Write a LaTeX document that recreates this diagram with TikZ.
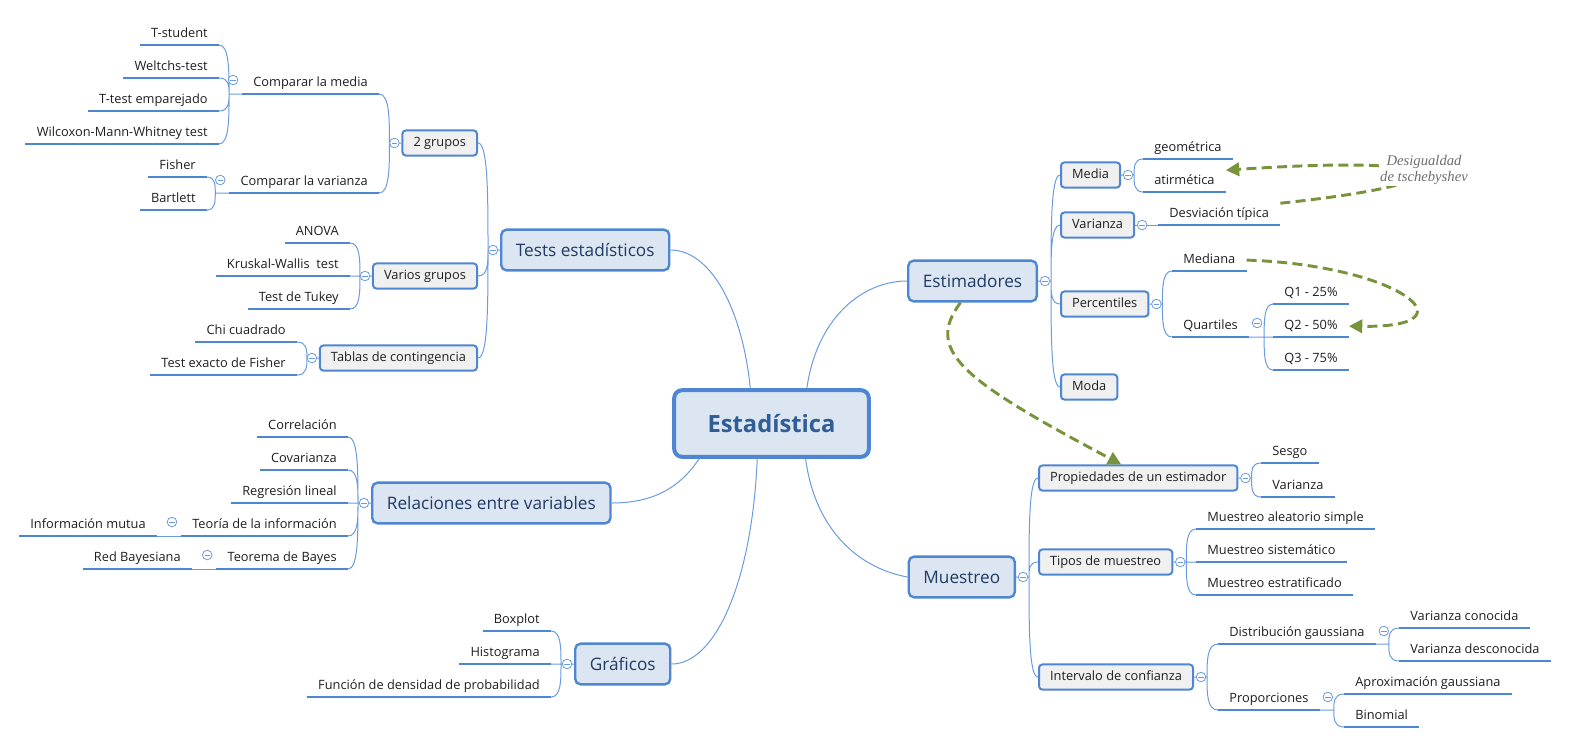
\documentclass[tikz,border=0pt]{standalone}
\usepackage{fontspec}
\setmainfont{Open Sans}
\newfontfamily\notafont{Liberation Serif}
\usetikzlibrary{calc,arrows.meta}

\definecolor{borde}{HTML}{4F86D2}
\definecolor{conector}{HTML}{6A9BE0}
\definecolor{fondo}{HTML}{DCE6F2}
\definecolor{gris}{HTML}{F0F0F0}
\definecolor{titulo}{HTML}{2F5D95}
\definecolor{azuloscuro}{HTML}{1F3B63}
\definecolor{verde}{HTML}{77933C}
\definecolor{nota}{HTML}{6E6E6E}
\definecolor{texto}{HTML}{1E1E1E}

\def\marca(#1)(#2){\draw[signo] ($(#1)+(#2)$) circle (3.6pt); \draw[signo] ($(#1)+(#2)+(-2.7,0)$) -- ($(#1)+(#2)+(2.7,0)$);}

\tikzset{
	central/.style={draw=borde, line width=3pt, fill=fondo, rounded corners=6pt, minimum width=146pt, minimum height=50pt, text=titulo, font=\fontsize{17.8}{21}\selectfont\bfseries},
	tema/.style={draw=borde, line width=1.8pt, fill=fondo, rounded corners=4pt, minimum height=30.5pt, inner xsep=11pt, text=azuloscuro, font=\fontsize{12.9}{15}\selectfont},
	subtema/.style={draw=borde, line width=1.5pt, fill=gris, rounded corners=2.5pt, minimum height=18.8pt, inner xsep=8.3pt, text height=7pt, text depth=2pt, text=texto, font=\fontsize{9.6}{11}\selectfont},
	hoja/.style={inner xsep=8.3pt, inner ysep=3.4pt, text height=6.9pt, text depth=2.25pt, text=texto, font=\fontsize{9.6}{11}\selectfont, append after command={(\tikzlastnode.south west) edge[draw=borde, line width=2.2pt] (\tikzlastnode.south east)}},
	rama/.style={draw=conector, line width=0.75pt},
	codo/.style={to path={.. controls ($(\tikztostart)!0.5!(\tikztostart|-\tikztotarget)$) and (\tikztostart|-\tikztotarget) .. (\tikztotarget)}},
	signo/.style={draw=conector, line width=0.6pt, fill=white},
	relacion/.style={draw=verde, line width=2.2pt, dash pattern=on 7.5pt off 4pt, -{Triangle[length=10pt,width=10pt]}}
}

\begin{document}
\begin{tikzpicture}[x=0.75pt, y=-0.75pt]
	%%%%% START %%%%%
	\useasboundingbox (0,0) rectangle (1569,744);
	
	\node[central] (estadistica) at (771.5,423.5) {Estadística};
	
	% Tests estadisticos
	\node[tema, anchor=west] (tests) at (500,250) {Tests estadísticos};
	\node[subtema, anchor=east] (dosgrupos) at (478,143) {2 grupos};
	\node[subtema, anchor=east] (varios) at (478,276) {Varios grupos};
	\node[subtema, anchor=east] (tablas) at (478,358) {Tablas de contingencia};
	\node[hoja, anchor=south east] (cmedia) at (379,94) {Comparar la media};
	\node[hoja, anchor=south east] (cvarianza) at (379,193) {Comparar la varianza};
	\node[hoja, anchor=south east] (tstudent) at (219,45) {T-student};
	\node[hoja, anchor=south east] (weltchs) at (219,78) {Weltchs-test};
	\node[hoja, anchor=south east] (temparejado) at (219,111) {T-test emparejado};
	\node[hoja, anchor=south east] (wilcoxon) at (219,144) {Wilcoxon-Mann-Whitney test};
	\node[hoja, anchor=south east] (fisher) at (207,177) {Fisher};
	\node[hoja, anchor=south east] (bartlett) at (207,210) {Bartlett};
	\node[hoja, anchor=south east] (anova) at (350,243) {ANOVA};
	\node[hoja, anchor=south east] (kruskal) at (350,276) {Kruskal-Wallis\ \ test};
	\node[hoja, anchor=south east] (tukey) at (350,309) {Test de Tukey};
	\node[hoja, anchor=south east] (chi) at (297,342) {Chi cuadrado};
	\node[hoja, anchor=south east] (fisherexacto) at (297,375) {Test exacto de Fisher};
	
	% Relaciones entre variables
	\node[tema, anchor=west] (relaciones) at (371,503) {Relaciones entre variables};
	\node[hoja, anchor=south east] (correlacion) at (348,437) {Correlación};
	\node[hoja, anchor=south east] (covarianza) at (348,470) {Covarianza};
	\node[hoja, anchor=south east] (regresion) at (348,503) {Regresión lineal};
	\node[hoja, anchor=south east] (teoria) at (348,536) {Teoría de la información};
	\node[hoja, anchor=south east] (infomutua) at (157,536) {Información mutua};
	\node[hoja, anchor=south east] (bayes) at (348,569) {Teorema de Bayes};
	\node[hoja, anchor=south east] (redbayes) at (192,569) {Red Bayesiana};
	
	% Graficos
	\node[tema, anchor=west] (graficos) at (574,664) {Gráficos};
	\node[hoja, anchor=south east] (boxplot) at (551,631) {Boxplot};
	\node[hoja, anchor=south east] (histograma) at (551,664) {Histograma};
	\node[hoja, anchor=south east] (densidad) at (551,697) {Función de densidad de probabilidad};
	
	% Estimadores
	\node[tema, anchor=east] (estimadores) at (1038,281) {Estimadores};
	\node[subtema, anchor=west] (media) at (1060,175) {Media};
	\node[subtema, anchor=west] (varianza) at (1060,225) {Varianza};
	\node[subtema, anchor=west] (percentiles) at (1060,304) {Percentiles};
	\node[subtema, anchor=west] (moda) at (1060,387) {Moda};
	\node[hoja, anchor=south west] (geometrica) at (1143,159) {geométrica};
	\node[hoja, anchor=south west] (atirmetica) at (1143,192) {atirmética};
	\node[hoja, anchor=south west] (desviacion) at (1158,225) {Desviación típica};
	\node[hoja, anchor=south west] (mediana) at (1172,271) {Mediana};
	\node[hoja, anchor=south west] (quartiles) at (1172,337) {Quartiles};
	\node[hoja, anchor=south west] (q1) at (1273,304) {Q1 - 25\%};
	\node[hoja, anchor=south west] (q2) at (1273,337) {Q2 - 50\%};
	\node[hoja, anchor=south west] (q3) at (1273,370) {Q3 - 75\%};
	
	% Muestreo
	\node[tema, anchor=east] (muestreo) at (1016,577) {Muestreo};
	\node[subtema, anchor=west] (propiedades) at (1038,478) {Propiedades de un estimador};
	\node[subtema, anchor=west] (tipos) at (1038,562) {Tipos de muestreo};
	\node[subtema, anchor=west] (intervalo) at (1038,677) {Intervalo de confianza};
	\node[hoja, anchor=south west] (sesgo) at (1261,463) {Sesgo};
	\node[hoja, anchor=south west] (varianzap) at (1261,497) {Varianza};
	\node[hoja, anchor=south west] (aleatorio) at (1196,529) {Muestreo aleatorio simple};
	\node[hoja, anchor=south west] (sistematico) at (1196,562) {Muestreo sistemático};
	\node[hoja, anchor=south west] (estratificado) at (1196,595) {Muestreo estratificado};
	\node[hoja, anchor=south west] (distribucion) at (1218,644) {Distribución gaussiana};
	\node[hoja, anchor=south west] (proporciones) at (1218,710) {Proporciones};
	\node[hoja, anchor=south west] (conocida) at (1399,628) {Varianza conocida};
	\node[hoja, anchor=south west] (desconocida) at (1399,661) {Varianza desconocida};
	\node[hoja, anchor=south west] (aproximacion) at (1344,694) {Aproximación gaussiana};
	\node[hoja, anchor=south west] (binomial) at (1344,727) {Binomial};
	
	% ramas del centro
	\draw[rama] (estadistica.121) .. controls +(-8,-80) and +(40,0) .. (tests.east);
	\draw[rama] (estadistica.45) .. controls +(10,-70) and +(-45,0) .. (estimadores.west);
	\draw[rama] (estadistica.206) .. controls +(-20,30) and +(40,0) .. (relaciones.east);
	\draw[rama] (estadistica.248) .. controls +(-5,120) and +(45,0) .. (graficos.east);
	\draw[rama] (estadistica.314) .. controls +(10,75) and +(-45,-8) .. (muestreo.west);
	
	% ramas a la izquierda
	\coordinate (jtests) at ($(tests.west)+(-12,0)$);
	\draw[rama] (tests.west) -- (jtests) to[codo] (dosgrupos.east) (jtests) to[codo] (varios.east) (jtests) to[codo] (tablas.east);
	\coordinate (jdos) at ($(dosgrupos.west)+(-12,0)$);
	\draw[rama] (dosgrupos.west) -- (jdos) to[codo] (cmedia.south east) (jdos) to[codo] (cvarianza.south east);
	\coordinate (jcmedia) at ($(cmedia.south west)+(-13,0)$);
	\draw[rama] (cmedia.south west) -- (jcmedia) to[codo] (tstudent.south east) (jcmedia) to[codo] (weltchs.south east) (jcmedia) to[codo] (temparejado.south east) (jcmedia) to[codo] (wilcoxon.south east);
	\coordinate (jcvar) at ($(cvarianza.south west)+(-14,0)$);
	\draw[rama] (cvarianza.south west) -- (jcvar) to[codo] (fisher.south east) (jcvar) to[codo] (bartlett.south east);
	\coordinate (jvarios) at ($(varios.west)+(-12,0)$);
	\draw[rama] (varios.west) -- (jvarios) to[codo] (anova.south east) (jvarios) to[codo] (kruskal.south east) (jvarios) to[codo] (tukey.south east);
	\coordinate (jtablas) at ($(tablas.west)+(-12,0)$);
	\draw[rama] (tablas.west) -- (jtablas) to[codo] (chi.south east) (jtablas) to[codo] (fisherexacto.south east);
	\coordinate (jrel) at ($(relaciones.west)+(-13,0)$);
	\draw[rama] (relaciones.west) -- (jrel) to[codo] (correlacion.south east) (jrel) to[codo] (covarianza.south east) (jrel) to[codo] (regresion.south east) (jrel) to[codo] (teoria.south east) (jrel) to[codo] (bayes.south east);
	\draw[rama] (teoria.south west) -- (infomutua.south east);
	\draw[rama] (bayes.south west) -- (redbayes.south east);
	\coordinate (jgraf) at ($(graficos.west)+(-13,0)$);
	\draw[rama] (graficos.west) -- (jgraf) to[codo] (boxplot.south east) (jgraf) to[codo] (histograma.south east) (jgraf) to[codo] (densidad.south east);
	
	% ramas a la derecha
	\coordinate (jest) at ($(estimadores.east)+(13,0)$);
	\draw[rama] (estimadores.east) -- (jest) to[codo] (media.west) (jest) to[codo] (varianza.west) (jest) to[codo] (percentiles.west) (jest) to[codo] (moda.west);
	\coordinate (jmedia) at ($(media.east)+(13,0)$);
	\draw[rama] (media.east) -- (jmedia) to[codo] (geometrica.south west) (jmedia) to[codo] (atirmetica.south west);
	\draw[rama] (varianza.east) -- (desviacion.south west);
	\coordinate (jperc) at ($(percentiles.east)+(13,0)$);
	\draw[rama] (percentiles.east) -- (jperc) to[codo] (mediana.south west) (jperc) to[codo] (quartiles.south west);
	\coordinate (jquart) at ($(quartiles.south east)+(15,0)$);
	\draw[rama] (quartiles.south east) -- (jquart) to[codo] (q1.south west) (jquart) to[codo] (q2.south west) (jquart) to[codo] (q3.south west);
	\coordinate (jmue) at ($(muestreo.east)+(13,0)$);
	\draw[rama] (muestreo.east) -- (jmue) to[codo] (propiedades.west) (jmue) to[codo] (tipos.west) (jmue) to[codo] (intervalo.west);
	\coordinate (jprop) at ($(propiedades.east)+(13,0)$);
	\draw[rama] (propiedades.east) -- (jprop) to[codo] (sesgo.south west) (jprop) to[codo] (varianzap.south west);
	\coordinate (jtipos) at ($(tipos.east)+(13,0)$);
	\draw[rama] (tipos.east) -- (jtipos) to[codo] (aleatorio.south west) (jtipos) to[codo] (sistematico.south west) (jtipos) to[codo] (estratificado.south west);
	\coordinate (jint) at ($(intervalo.east)+(13,0)$);
	\draw[rama] (intervalo.east) -- (jint) to[codo] (distribucion.south west) (jint) to[codo] (proporciones.south west);
	\coordinate (jdist) at ($(distribucion.south east)+(13,0)$);
	\draw[rama] (distribucion.south east) -- (jdist) to[codo] (conocida.south west) (jdist) to[codo] (desconocida.south west);
	\coordinate (jprop2) at ($(proporciones.south east)+(14,0)$);
	\draw[rama] (proporciones.south east) -- (jprop2) to[codo] (aproximacion.south west) (jprop2) to[codo] (binomial.south west);
	
	% marcas
	\marca(tests.west)(-7,0)
	\marca(dosgrupos.west)(-7,0)
	\marca(varios.west)(-7,0)
	\marca(tablas.west)(-7,0)
	\marca(cmedia.south west)(-9,-14)
	\marca(cvarianza.south west)(-9,-13)
	\marca(relaciones.west)(-7,0)
	\marca(teoria.south west)(-9,-14)
	\marca(bayes.south west)(-9,-14)
	\marca(graficos.west)(-7,0)
	\marca(estimadores.east)(7,0)
	\marca(media.east)(7,0)
	\marca(varianza.east)(7,0)
	\marca(percentiles.east)(7,0)
	\marca(quartiles.south east)(8,-14)
	\marca(muestreo.east)(7,0)
	\marca(propiedades.east)(7,0)
	\marca(tipos.east)(7,0)
	\marca(intervalo.east)(7,0)
	\marca(distribucion.south east)(8,-13)
	\marca(proporciones.south east)(8,-13)
	
	% relaciones
	\draw[relacion] (desviacion.north east) .. controls +(200,-21) and +(234,-16) .. (atirmetica.north east);
	\node[font=\notafont\itshape\fontsize{11}{12}\selectfont, text=nota, fill=white, align=center, inner sep=1pt] (desigualdad) at (1424,170) {Desigualdad\\de tschebyshev};
	\draw[relacion] (mediana.east) .. controls +(153,5) and +(129,2) .. (q2.east);
	\draw[relacion] ($(estimadores.south)+(-12,0)$) .. controls +(-36,48) and +(-160,-85) .. ($(propiedades.north)+(-17,0)$);
	
	%%%%% END %%%%%
\end{tikzpicture}
\end{document}
